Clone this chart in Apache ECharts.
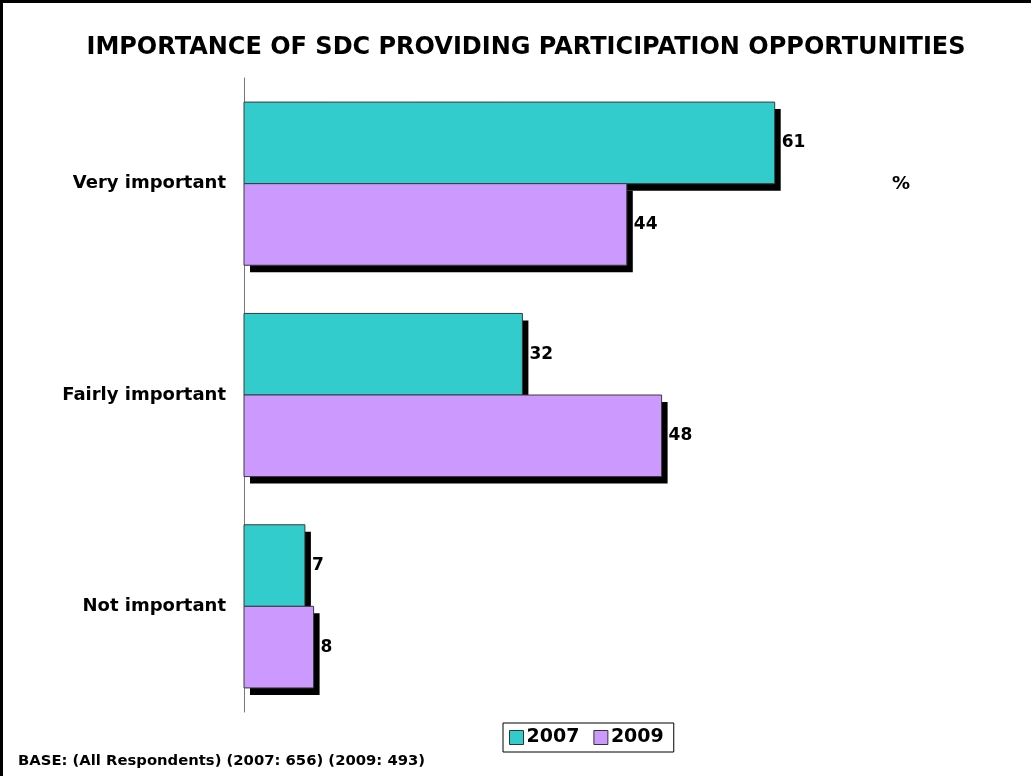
<!DOCTYPE html>
<html>
<head>
<meta charset="utf-8">
<script src="https://cdn.jsdelivr.net/npm/echarts@6/dist/echarts.min.js"></script>
<style>
html,body{margin:0;padding:0;background:#fff;}
#frame{position:absolute;left:0;top:0;width:1031px;height:776px;box-sizing:border-box;border-top:3px solid #000;border-left:3px solid #000;pointer-events:none;}
#chart{position:absolute;left:0;top:0;width:1031px;height:776px;}
</style>
</head>
<body>
<div id="chart"></div>
<div id="frame"></div>
<script>
const categories = ['Very important', 'Fairly important', 'Not important'];
const seriesNames = ['2007', '2009'];
const values2007 = [61, 32, 7];
const values2009 = [44, 48, 8];
const colors = ['#33CCCC', '#CC99FF'];

const chart = echarts.init(document.getElementById('chart'));
const FONT = 'DejaVu Sans';
const BAR_FRAC = 0.386;   // each bar's share of the category band
const SH_X = 6, SH_Y = 7; // shadow offset

function makeRender(seriesIdx) {
  return function (params, api) {
    const cat = api.value(0);
    const val = api.value(1);
    const base = api.coord([0, cat]);
    const end = api.coord([val, cat]);
    const band = api.size([0, 1])[1];
    const h = band * BAR_FRAC;
    const y = seriesIdx === 0 ? base[1] - h : base[1];
    const x = base[0];
    const w = end[0] - base[0];
    return {
      type: 'group',
      children: [
        {type: 'rect', shape: {x: x + SH_X, y: y + SH_Y, width: w, height: h},
         style: {fill: '#000'}},
        {type: 'rect', shape: {x: x, y: y, width: w, height: h},
         style: {fill: colors[seriesIdx], stroke: '#3a3a3a', lineWidth: 1}},
        {type: 'text', x: x + w + SH_X + 1, y: y + h / 2,
         style: {text: String(val), fill: '#000', font: 'bold 17px "' + FONT + '"',
                 textVerticalAlign: 'middle', verticalAlign: 'middle', textAlign: 'left', align: 'left'}}
      ]
    };
  };
}

chart.setOption({
  animation: false,
  backgroundColor: '#fff',
  title: [
    {
      text: 'IMPORTANCE OF SDC PROVIDING PARTICIPATION OPPORTUNITIES',
      left: 521, top: 31, textAlign: 'center',
      textStyle: {fontFamily: FONT, fontWeight: 'bold', fontSize: 24, color: '#000'}
    },
    {
      text: '%', left: 892, top: 175, padding: 0,
      textStyle: {fontFamily: FONT, fontWeight: 'bold', fontSize: 18, color: '#000'}
    },
    {
      text: 'BASE: (All Respondents) (2007: 656) (2009: 493)', left: 18, top: 754, padding: 0,
      textStyle: {fontFamily: FONT, fontWeight: 'bold', fontSize: 14.8, color: '#000'}
    }
  ],
  legend: {
    data: seriesNames.map((n, i) => ({name: n, itemStyle: {color: colors[i]}})),
    left: 503, top: 723,
    orient: 'horizontal',
    icon: 'rect',
    itemWidth: 14, itemHeight: 14, itemGap: 14,
    padding: [5, 10, 5, 6],
    borderColor: '#000', borderWidth: 1,
    backgroundColor: '#fff',
    itemStyle: {borderColor: '#333', borderWidth: 1},
    textStyle: {fontFamily: FONT, fontWeight: 'bold', fontSize: 19, color: '#000', padding: [0, 0, 0, -2]}
  },
  grid: {left: 244, top: 78, width: 696, height: 634, containLabel: false},
  xAxis: {
    type: 'value', min: 0, max: 80, show: false
  },
  yAxis: {
    type: 'category', data: categories, inverse: true,
    axisLine: {show: true, lineStyle: {color: '#777', width: 1}},
    axisTick: {show: false},
    axisLabel: {margin: 18, color: '#000', fontFamily: FONT, fontWeight: 'bold', fontSize: 18}
  },
  series: [
    {
      name: '2007', type: 'custom', renderItem: makeRender(0),
      itemStyle: {color: colors[0]},
      encode: {x: 1, y: 0},
      data: values2007.map((v, i) => [i, v])
    },
    {
      name: '2009', type: 'custom', renderItem: makeRender(1),
      itemStyle: {color: colors[1]},
      encode: {x: 1, y: 0},
      data: values2009.map((v, i) => [i, v])
    }
  ]
});
</script>
</body>
</html>
